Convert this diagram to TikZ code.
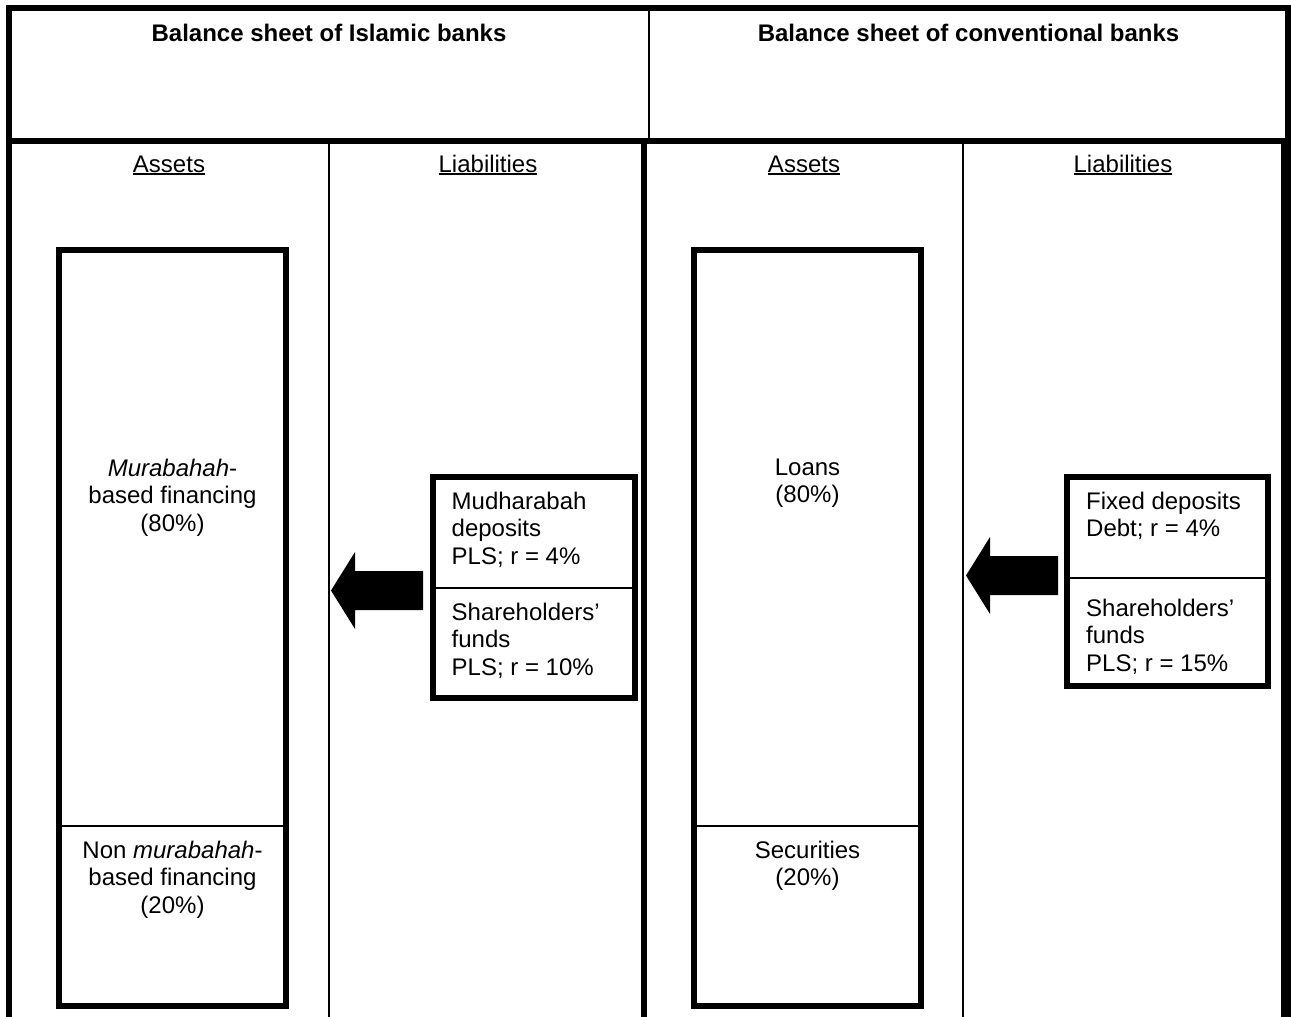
\documentclass[tikz,border=0pt]{standalone}
\usepackage{fontspec}
\setmainfont{Liberation Sans}
\newcommand\myfs{\fontsize{24}{27.5}\selectfont}
\newcommand\myul[1]{\setbox0\hbox{#1}\rlap{\rule[-3pt]{\wd0}{2pt}}\box0}
\begin{document}
\begin{tikzpicture}[x=1pt,y=-1pt,
  heavy/.style={line width=6pt},
  light/.style={line width=2pt},
  txt/.style={inner sep=0pt, anchor=base, font=\myfs},
  ltxt/.style={inner sep=0pt, anchor=base west, font=\myfs},
  boxnode/.style={draw, line width=6pt, rectangle, inner sep=0pt},
  blockarrow/.pic={\fill (0,0) -- (24,-38.5) -- (24,-19.5) -- (92,-19.5) -- (92,19.5) -- (24,19.5) -- (24,38.5) -- cycle;}]
\useasboundingbox (0,0) rectangle (1291,1017);
\clip (0,0) rectangle (1291,1017);
\fill[white] (0,0) rectangle (1291,1017);
% frame
\draw[heavy] (9,8) rectangle (1288,141);
\draw[light] (649,8) -- (649,141);
\draw[heavy] (9,141) -- (9,1030);
\draw[heavy] (644,141) -- (644,1030);
\draw[line width=10pt] (1286,138) -- (1286,1030);
\draw[light] (329,141) -- (329,1030);
\draw[light] (963,141) -- (963,1030);
% headers
\node[txt, font=\myfs\bfseries] (h1) at (329,41) {Balance sheet of Islamic banks};
\node[txt, font=\myfs\bfseries] (h2) at (968.5,41) {Balance sheet of conventional banks};
\node[txt] (c1) at (169,172) {\myul{Assets}};
\node[txt] (c2) at (488,172) {\myul{Liabilities}};
\node[txt] (c3) at (804,172) {\myul{Assets}};
\node[txt] (c4) at (1123,172) {\myul{Liabilities}};
% asset boxes
\node[boxnode, minimum width=227pt, minimum height=756pt] (ia) at (172.5,628) {};
\draw[light] (ia.west |- 0,826) -- (ia.east |- 0,826);
\node[boxnode, minimum width=227pt, minimum height=756pt] (ca) at (807.5,628) {};
\draw[light] (ca.west |- 0,826) -- (ca.east |- 0,826);
\node[txt] (t1) at (172.5,476) {\begin{tabular}[t]{@{}c@{}}\textit{Murabahah}-\\based financing\\(80\%)\end{tabular}};
\node[txt] (t2) at (172.5,858) {\begin{tabular}[t]{@{}c@{}}Non \textit{murabahah}-\\based financing\\(20\%)\end{tabular}};
\node[txt] (t3) at (807.5,475) {\begin{tabular}[t]{@{}c@{}}Loans\\(80\%)\end{tabular}};
\node[txt] (t4) at (807.5,858) {\begin{tabular}[t]{@{}c@{}}Securities\\(20\%)\end{tabular}};
% liability boxes
\node[boxnode, minimum width=202pt, minimum height=221pt] (il) at (533.5,587.5) {};
\draw[light] (il.west |- 0,588) -- (il.east |- 0,588);
\node[boxnode, minimum width=201pt, minimum height=209pt] (cl) at (1167.5,581.5) {};
\draw[light] (cl.west |- 0,578) -- (cl.east |- 0,578);
\node[ltxt] (l1) at (451.5,509) {\begin{tabular}[t]{@{}l@{}}Mudharabah\\deposits\\PLS; r = 4\%\end{tabular}};
\node[ltxt] (l2) at (451.5,620) {\begin{tabular}[t]{@{}l@{}}Shareholders’\\funds\\PLS; r = 10\%\end{tabular}};
\node[ltxt] (l3) at (1086,509) {\begin{tabular}[t]{@{}l@{}}Fixed deposits\\Debt; r = 4\%\end{tabular}};
\node[ltxt] (l4) at (1086,616) {\begin{tabular}[t]{@{}l@{}}Shareholders’\\funds\\PLS; r = 15\%\end{tabular}};
% arrows
\pic at (331,590.5) {blockarrow};
\pic at (966,575.5) {blockarrow};
\end{tikzpicture}
\end{document}
